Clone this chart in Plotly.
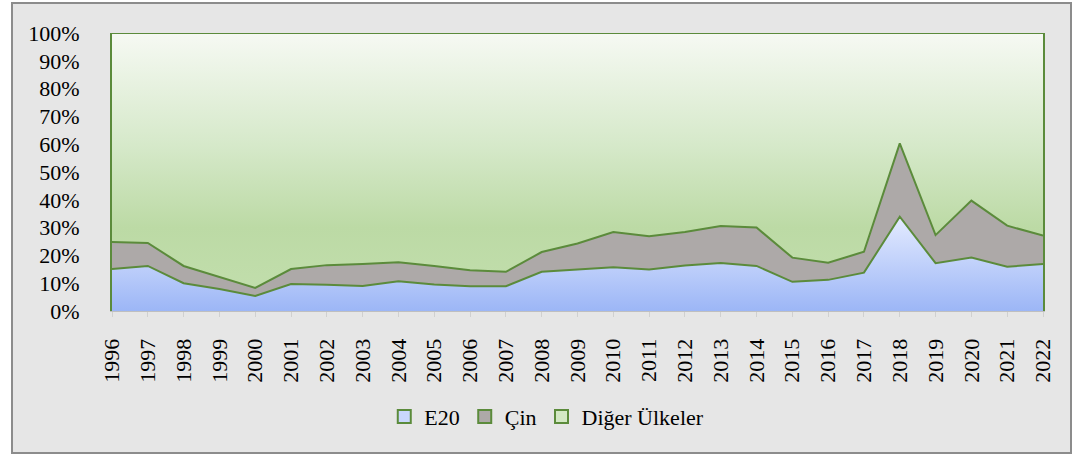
import plotly.graph_objects as go

years = [1996, 1997, 1998, 1999, 2000, 2001, 2002, 2003, 2004, 2005, 2006, 2007, 2008,
         2009, 2010, 2011, 2012, 2013, 2014, 2015, 2016, 2017, 2018, 2019, 2020, 2021, 2022]
e20 = [15.1, 16.2, 10.0, 7.9, 5.4, 9.7, 9.4, 9.0, 10.7, 9.5, 8.9, 8.9, 14.1,
       15.0, 15.7, 14.9, 16.4, 17.3, 16.2, 10.5, 11.2, 13.8, 33.9, 17.2, 19.2, 15.9, 16.9]
cin = [9.7, 8.3, 6.2, 4.3, 2.9, 5.4, 7.1, 7.9, 6.8, 6.7, 5.8, 5.2, 7.1,
       9.3, 12.7, 12.0, 12.0, 13.3, 13.8, 8.7, 6.2, 7.5, 26.4, 10.1, 20.5, 14.8, 10.2]
diger = [75.2, 75.5, 83.8, 87.8, 91.7, 84.9, 83.5, 83.1, 82.5, 83.8, 85.3, 85.9, 78.8,
         75.7, 71.6, 73.1, 71.6, 69.4, 70.0, 80.8, 82.6, 78.7, 39.7, 72.7, 60.3, 69.3, 72.9]
series_names = ["E20", "Çin", "Diğer Ülkeler"]
y_ticks = [0, 10, 20, 30, 40, 50, 60, 70, 80, 90, 100]
y_tick_text = ["0%", "10%", "20%", "30%", "40%", "50%", "60%", "70%", "80%", "90%", "100%"]

LINE = "#5B8B3B"
FONT = dict(family="Liberation Serif", size=22, color="#000000")

fig = go.Figure()

fig.add_trace(go.Scatter(
    x=years, y=e20, name=series_names[0], stackgroup="one", mode="lines",
    line=dict(color=LINE, width=2),
    fillgradient=dict(type="vertical", start=0, stop=34,
                      colorscale=[[0, "#9CB6F6"], [1, "#E4EBFF"]]),
    showlegend=False, hoverinfo="skip"))
fig.add_trace(go.Scatter(
    x=years, y=cin, name=series_names[1], stackgroup="one", mode="lines",
    line=dict(color=LINE, width=2), fillcolor="#ADA9A8",
    showlegend=False, hoverinfo="skip"))
fig.add_trace(go.Scatter(
    x=years, y=diger, name=series_names[2], stackgroup="one", mode="lines",
    line=dict(color=LINE, width=2),
    fillgradient=dict(type="vertical", start=0, stop=100,
                      colorscale=[[0, "#C3DFAE"], [0.3, "#BCDAA5"], [0.6, "#D6E9CA"], [1, "#F6F9F3"]]),
    showlegend=False, hoverinfo="skip"))

legend_colors = ["#C9D7FD", "#ADA9A8", "#D3E8C4"]
for name, col in zip(series_names, legend_colors):
    fig.add_trace(go.Scatter(
        x=[None], y=[None], mode="markers", name=name,
        marker=dict(symbol="square", size=13, color=col, line=dict(color=LINE, width=2))))

fig.update_layout(
    width=1078, height=457,
    margin=dict(l=112, r=35, t=33, b=146),
    paper_bgcolor="#FFFFFF", plot_bgcolor="rgba(0,0,0,0)",
    font=FONT,
    showlegend=True,
    legend=dict(orientation="h", x=0.467, xanchor="center", y=-0.38, yanchor="middle",
                font=FONT, bgcolor="rgba(0,0,0,0)", itemwidth=30, tracegroupgap=0,
                traceorder="normal"),
    xaxis=dict(range=[1996, 2022], tickmode="array", tickvals=years,
               ticktext=[str(y) for y in years], tickangle=-90,
               showgrid=False, zeroline=False, showline=True, linecolor="#BFBFBF", linewidth=1,
               ticks="outside", ticklen=5, tickcolor="#D0D0D0", tickwidth=1,
               ticklabelstandoff=13, tickfont=FONT),
    yaxis=dict(range=[0, 100], tickmode="array", tickvals=y_ticks, ticktext=y_tick_text,
               showgrid=False, zeroline=False, showline=True, linecolor=LINE, linewidth=2,
               mirror=True, ticks="", ticklabelstandoff=26, tickfont=FONT),
    shapes=[dict(type="rect", xref="paper", yref="paper", layer="below",
                 x0=(12 - 112) / 931, x1=(1071 - 112) / 931,
                 y0=(311 - 453) / 278, y1=(311 - 3) / 278,
                 fillcolor="#E6E6E6", line=dict(color="#8C8C8C", width=2))],
)

fig.write_html("out.html", config={"displayModeBar": False},
               post_script="document.body.style.margin='0';document.body.style.overflow='hidden';")
